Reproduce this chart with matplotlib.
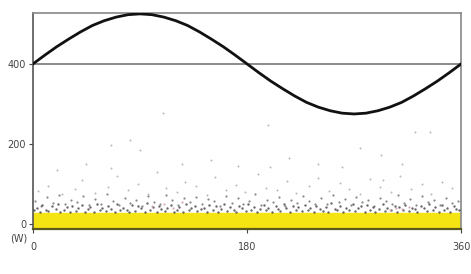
import numpy as np
import matplotlib
matplotlib.use('Agg')
import matplotlib.pyplot as plt

# curve (degrees -> value)
curve_x = [0, 10, 20, 30, 40, 50, 60, 70, 80, 90, 100, 110, 120, 130, 140, 150, 160, 170, 180,
           190, 200, 210, 220, 230, 240, 250, 260, 270, 280, 290, 300, 310, 320, 330, 340, 350, 360]
curve_y = [400, 422, 443, 462, 480, 496, 508, 517, 523, 525, 523, 517, 508, 496, 480, 462, 443, 422, 400,
           378, 357, 338, 320, 304, 292, 283, 277, 275, 277, 283, 292, 304, 320, 338, 357, 378, 400]

# scattered readings, dense low band
low_x = [1, 3, 6, 8, 11, 13, 16, 19, 21, 23, 26, 29, 31, 33, 36, 38, 41, 44, 46, 48,
         51, 54, 56, 58, 61, 63, 66, 69, 71, 73, 76, 79, 81, 83, 86, 88, 91, 94, 96, 98,
         101, 104, 106, 108, 111, 113, 116, 119, 121, 123, 126, 129, 131, 133, 136, 138, 141, 144, 146, 148,
         151, 154, 156, 158, 161, 163, 166, 169, 171, 173, 176, 179, 181, 183, 186, 188, 191, 194, 196, 198,
         201, 204, 206, 208, 211, 213, 216, 219, 221, 223, 226, 229, 231, 233, 236, 238, 241, 244, 246, 248,
         251, 254, 256, 258, 261, 263, 266, 269, 271, 273, 276, 279, 281, 283, 286, 288, 291, 294, 296, 298,
         301, 304, 306, 308, 311, 313, 316, 319, 321, 323, 326, 329, 331, 333, 336, 338, 341, 344, 346, 348,
         351, 354, 356, 358]
low_y = [34, 41, 30, 47, 36, 32, 44, 38, 50, 31, 35, 42, 29, 46, 33, 39, 48, 31, 37, 43,
         30, 51, 35, 40, 32, 45, 38, 29, 49, 34, 41, 36, 30, 47, 33, 44, 39, 31, 52, 35,
         42, 30, 46, 37, 33, 40, 48, 31, 36, 43, 29, 50, 34, 39, 45, 32, 37, 41, 30, 47,
         35, 44, 31, 38, 49, 33, 42, 36, 29, 46, 40, 32, 51, 35, 43, 30, 38, 47, 34, 41,
         31, 45, 37, 33, 50, 39, 30, 44, 36, 42, 32, 48, 35, 40, 29, 46, 38, 33, 43, 31,
         52, 37, 34, 45, 30, 41, 36, 49, 32, 39, 44, 31, 47, 35, 42, 30, 38, 50, 33, 40,
         36, 46, 29, 43, 34, 48, 32, 41, 37, 30, 45, 39, 33, 51, 35, 42, 31, 47, 36, 40,
         30, 44, 38, 34]

mid_x = [2, 7, 12, 17, 22, 27, 32, 37, 42, 47, 52, 57, 62, 67, 72, 77, 82, 87, 92, 97,
         102, 107, 112, 117, 122, 127, 132, 137, 142, 147, 152, 157, 162, 167, 172, 177, 182, 187, 192, 197,
         202, 207, 212, 217, 222, 227, 232, 237, 242, 247, 252, 257, 262, 267, 272, 277, 282, 287, 292, 297,
         302, 307, 312, 317, 322, 327, 332, 337, 342, 347, 352, 357]
mid_y = [58, 46, 67, 52, 72, 49, 61, 55, 70, 47, 63, 51, 75, 57, 48, 66, 53, 60, 45, 69,
         56, 50, 73, 59, 47, 64, 54, 68, 49, 62, 57, 46, 71, 53, 65, 50, 58, 74, 48, 61,
         55, 67, 46, 59, 52, 70, 57, 49, 64, 51, 73, 56, 62, 47, 68, 54, 60, 45, 66, 58,
         50, 72, 53, 63, 48, 69, 55, 61, 47, 65, 52, 57]

upper_x = [4, 13, 24, 35, 41, 52, 63, 71, 80, 88, 97, 104, 112, 121, 128, 137, 146, 153, 162, 171,
           178, 189, 196, 205, 214, 221, 232, 240, 249, 258, 266, 275, 283, 292, 301, 309, 318, 327, 335, 344, 352]
upper_y = [82, 95, 74, 88, 110, 78, 92, 120, 85, 100, 76, 130, 90, 81, 105, 95, 72, 118, 86, 98,
           79, 125, 91, 84, 108, 77, 96, 115, 83, 102, 88, 74, 112, 93, 80, 121, 87, 99, 76, 106, 90]

high_x = [66, 66, 82, 90, 109, 125, 150, 172, 198, 199, 215, 240, 260, 275, 293, 294, 310, 321, 334, 45, 20]
high_y = [197, 140, 210, 185, 277, 150, 160, 145, 247, 142, 165, 150, 142, 190, 172, 110, 150, 230, 230, 150, 135]

pink_x = [100, 110, 118, 125, 300, 305, 310, 316]
pink_y = [45, 50, 40, 55, 35, 40, 38, 42]

xticks = [0, 180, 360]
yticks = [0, 200, 400]

fig = plt.figure(figsize=(4.71, 2.74), dpi=100)
ax = fig.add_axes([0.070, 0.164, 0.909, 0.789])

ax.axhspan(-12.5, 27, color='#f3e412', zorder=1)
ax.axhline(400, color='#777777', lw=1.2, zorder=2)

ax.scatter(low_x, low_y, s=3, c='#444444', alpha=0.8, linewidths=0, zorder=3)
ax.scatter(mid_x, mid_y, s=2.5, c='#555555', alpha=0.7, linewidths=0, zorder=3)
ax.scatter(upper_x, upper_y, s=2, c='#888888', alpha=0.6, linewidths=0, zorder=3)
ax.scatter(high_x, high_y, s=2, c='#888888', alpha=0.6, linewidths=0, zorder=3)
ax.scatter(pink_x, pink_y, s=2.5, c='#d9a0b0', alpha=0.9, linewidths=0, zorder=3)

ax.plot(curve_x, curve_y, color='#111111', lw=2, zorder=4)

ax.set_xlim(0, 360)
ax.set_ylim(-12.5, 527.5)
ax.set_xticks(xticks)
ax.set_yticks(yticks)
ax.tick_params(labelsize=7, colors='#444444', length=3, width=0.8, pad=2)
ax.tick_params(axis='x', pad=6)

for side in ['top', 'right']:
    ax.spines[side].set_color('#888888')
    ax.spines[side].set_linewidth(1.2)
ax.spines['left'].set_color('#555555')
ax.spines['left'].set_linewidth(1.2)
ax.spines['bottom'].set_color('#5a5a20')
ax.spines['bottom'].set_linewidth(1.6)

ax.text(-0.012, -0.045, '(W)', transform=ax.transAxes, ha='right', va='center',
        fontsize=7, color='#444444')

fig.savefig('out.png', dpi=100)
